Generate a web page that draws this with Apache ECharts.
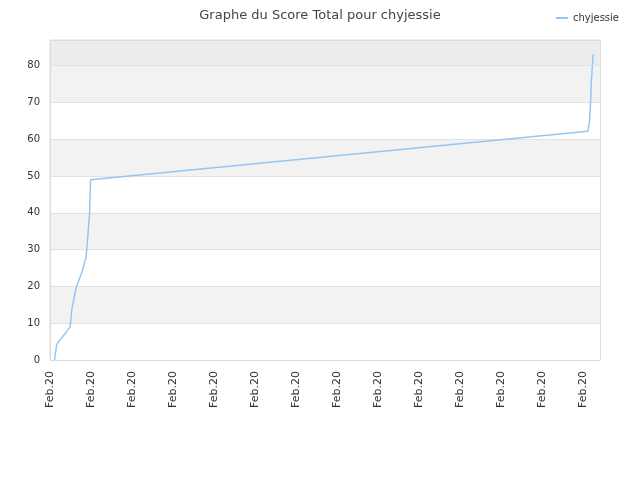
<!DOCTYPE html>
<html>
<head>
<meta charset="utf-8">
<script src="https://cdn.jsdelivr.net/npm/echarts@6/dist/echarts.min.js"></script>
<style>
  html, body { margin: 0; padding: 0; background: #fff; }
  #chart { width: 640px; height: 480px; }
</style>
</head>
<body>
<div id="chart"></div>
<script>
// days since the start of the axis (all in Feb.20) and total score
const days = [0.22, 0.32, 0.42, 0.78, 0.98, 1.07, 1.27, 1.56, 1.76, 1.85, 1.93, 1.98, 2.05,
  26.24, 26.32, 26.37, 26.41, 26.46, 26.50]
const scores = [0, 4, 5, 7.5, 9, 14, 19.5, 24, 28, 34, 40, 49, 49.2,
  62.2, 65, 70, 76, 80, 83.2]
const tickLabel = 'Feb.20'
const seriesName = 'chyjessie'
const xMax = 26.83
const yMax = 87

initChart()

function initChart () {
  const dom = echarts.init(document.getElementById('chart'))
  const font = 'DejaVu Sans'
  const border = '#dcdcdc'
  const option = {
    animation: false,
    title: {
      text: 'Graphe du Score Total pour chyjessie',
      left: 'center',
      top: 4,
      textStyle: { fontFamily: font, fontSize: 13, fontWeight: 'normal', color: '#444' }
    },
    legend: {
      right: 16,
      top: 8,
      icon: 'rect',
      itemWidth: 12,
      itemHeight: 2,
      itemGap: 8,
      textStyle: { fontFamily: font, fontSize: 10, color: '#333' },
      data: [seriesName]
    },
    grid: {
      left: 50, right: 40, top: 40, bottom: 120,
      show: true, borderColor: border, borderWidth: 1
    },
    xAxis: {
      type: 'value',
      min: 0,
      max: xMax,
      interval: 2,
      axisLine: { show: true, lineStyle: { color: border } },
      axisTick: { show: false },
      splitLine: { show: false },
      axisLabel: {
        rotate: 90,
        showMaxLabel: false,
        fontFamily: font,
        fontSize: 11,
        color: '#333',
        margin: 11,
        formatter: () => tickLabel
      }
    },
    yAxis: {
      type: 'value',
      min: 0,
      max: yMax,
      interval: 10,
      axisLine: { show: true, lineStyle: { color: border } },
      axisTick: { show: false },
      splitLine: { lineStyle: { color: '#e2e2e2' } },
      splitArea: { show: true, areaStyle: { color: ['#ffffff', '#f2f2f2'] } },
      axisLabel: {
        fontFamily: font,
        fontSize: 10,
        color: '#333',
        margin: 10,
        showMaxLabel: false
      }
    },
    series: [{
      name: seriesName,
      type: 'line',
      showSymbol: false,
      color: '#95c6f3',
      lineStyle: { width: 1.5, color: '#95c6f3' },
      data: days.map((d, i) => [d, scores[i]]),
      markArea: {
        silent: true,
        itemStyle: { color: '#ececec' },
        data: [[{ yAxis: 80 }, { yAxis: yMax }]]
      },
      markLine: {
        silent: true,
        symbol: 'none',
        label: { show: false },
        lineStyle: { color: border, type: 'solid', width: 1 },
        data: [{ xAxis: 0 }, { xAxis: xMax }, { yAxis: 80, lineStyle: { color: '#e2e2e2' } }, { yAxis: yMax }]
      }
    }]
  }
  dom.setOption(option)
}
</script>
</body>
</html>
